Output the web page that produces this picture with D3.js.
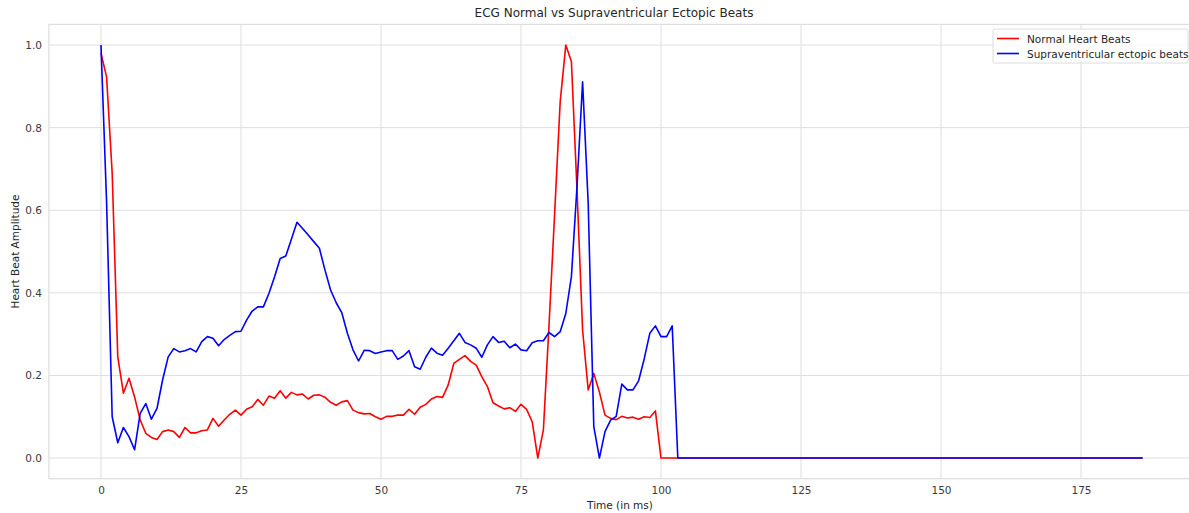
<!DOCTYPE html>
<html>
<head>
<meta charset="utf-8">
<script src="https://cdnjs.cloudflare.com/ajax/libs/d3/7.8.5/d3.min.js"></script>
<style>
  body { margin: 0; background: #fff; }
  text { font-family: 'DejaVu Sans', sans-serif; }
</style>
</head>
<body>
<script>
const normalBeats = [
  0.98, 0.923, 0.69, 0.245, 0.157, 0.193, 0.148, 0.092, 0.06, 0.05,
  0.045, 0.064, 0.068, 0.064, 0.05, 0.074, 0.061, 0.061, 0.066, 0.068,
  0.096, 0.077, 0.092, 0.106, 0.116, 0.104, 0.118, 0.124, 0.142, 0.128,
  0.15, 0.145, 0.163, 0.145, 0.159, 0.153, 0.155, 0.143, 0.152, 0.153,
  0.147, 0.135, 0.128, 0.136, 0.139, 0.116, 0.11, 0.107, 0.108, 0.1,
  0.094, 0.101, 0.101, 0.104, 0.104, 0.118, 0.106, 0.123, 0.13, 0.143,
  0.149, 0.147, 0.177, 0.229, 0.239, 0.248, 0.234, 0.225, 0.197, 0.173,
  0.134, 0.126, 0.119, 0.122, 0.113, 0.13, 0.118, 0.088, 0.0, 0.068,
  0.32, 0.59, 0.863, 1.0, 0.96, 0.65, 0.31, 0.165, 0.205, 0.16,
  0.104, 0.096, 0.093, 0.101, 0.097, 0.099, 0.094, 0.1, 0.098, 0.114,
  0, 0, 0, 0, 0, 0, 0, 0, 0, 0,
  0, 0, 0, 0, 0, 0, 0, 0, 0, 0,
  0, 0, 0, 0, 0, 0, 0, 0, 0, 0,
  0, 0, 0, 0, 0, 0, 0, 0, 0, 0,
  0, 0, 0, 0, 0, 0, 0, 0, 0, 0,
  0, 0, 0, 0, 0, 0, 0, 0, 0, 0,
  0, 0, 0, 0, 0, 0, 0, 0, 0, 0,
  0, 0, 0, 0, 0, 0, 0, 0, 0, 0,
  0, 0, 0, 0, 0, 0, 0
];

const ectopicBeats = [
  1.0, 0.62, 0.1, 0.037, 0.074, 0.052, 0.02, 0.108, 0.132, 0.094,
  0.12, 0.189, 0.245, 0.265, 0.257, 0.26, 0.265, 0.257, 0.282, 0.294,
  0.29, 0.272, 0.287, 0.297, 0.306, 0.307, 0.334, 0.356, 0.366, 0.366,
  0.399, 0.439, 0.483, 0.489, 0.53, 0.571, 0.556, 0.54, 0.524, 0.508,
  0.455, 0.407, 0.376, 0.352, 0.302, 0.262, 0.235, 0.261, 0.26, 0.253,
  0.257, 0.26, 0.26, 0.239, 0.247, 0.26, 0.221, 0.215, 0.244, 0.266,
  0.254, 0.249, 0.266, 0.284, 0.302, 0.28, 0.274, 0.266, 0.244, 0.274,
  0.294, 0.28, 0.283, 0.267, 0.276, 0.262, 0.26, 0.279, 0.284, 0.284,
  0.304, 0.294, 0.306, 0.35, 0.439, 0.657, 0.911, 0.617, 0.076, 0.0,
  0.064, 0.092, 0.101, 0.179, 0.165, 0.165, 0.187, 0.24, 0.302, 0.32,
  0.294, 0.294, 0.32, 0, 0, 0, 0, 0, 0, 0,
  0, 0, 0, 0, 0, 0, 0, 0, 0, 0,
  0, 0, 0, 0, 0, 0, 0, 0, 0, 0,
  0, 0, 0, 0, 0, 0, 0, 0, 0, 0,
  0, 0, 0, 0, 0, 0, 0, 0, 0, 0,
  0, 0, 0, 0, 0, 0, 0, 0, 0, 0,
  0, 0, 0, 0, 0, 0, 0, 0, 0, 0,
  0, 0, 0, 0, 0, 0, 0, 0, 0, 0,
  0, 0, 0, 0, 0, 0, 0
];

const xTicks = [0, 25, 50, 75, 100, 125, 150, 175];
const yTicks = [0.0, 0.2, 0.4, 0.6, 0.8, 1.0];

const seriesNames = ['Normal Heart Beats', 'Supraventricular ectopic beats'];
const seriesColors = ['#ff0000', '#0000ff'];

const W = 1189, H = 513;
const margin = { top: 24.4, left: 48.9, right: -5.7, bottom: 34.3 };
const width = W - margin.left - margin.right;
const height = H - margin.top - margin.bottom;
const gridColor = '#dedede';

const svg = d3.select('body')
  .append('svg')
  .attr('width', W)
  .attr('height', H);

const xScale = d3.scaleLinear()
  .domain([-9.3, 195.3])
  .range([margin.left, margin.left + width]);

const yScale = d3.scaleLinear()
  .domain([-0.05, 1.05])
  .range([margin.top + height, margin.top]);

// grid
svg.append('g')
  .selectAll('line')
  .data(xTicks)
  .enter()
  .append('line')
  .attr('x1', d => xScale(d))
  .attr('x2', d => xScale(d))
  .attr('y1', margin.top)
  .attr('y2', margin.top + height)
  .attr('stroke', gridColor)
  .attr('stroke-width', 1);

svg.append('g')
  .selectAll('line')
  .data(yTicks)
  .enter()
  .append('line')
  .attr('x1', margin.left)
  .attr('x2', margin.left + width)
  .attr('y1', d => yScale(d))
  .attr('y2', d => yScale(d))
  .attr('stroke', gridColor)
  .attr('stroke-width', 1);

// frame
svg.append('rect')
  .attr('x', margin.left)
  .attr('y', margin.top)
  .attr('width', width)
  .attr('height', height)
  .attr('fill', 'none')
  .attr('stroke', gridColor)
  .attr('stroke-width', 1.2);

// axes (labels only, seaborn whitegrid has no tick marks)
const xAxis = d3.axisBottom(xScale)
  .tickValues(xTicks)
  .tickSize(0)
  .tickPadding(8)
  .tickFormat(d3.format('d'));

const yAxis = d3.axisLeft(yScale)
  .tickValues(yTicks)
  .tickSize(0)
  .tickPadding(7)
  .tickFormat(d3.format('.1f'));

const gx = svg.append('g')
  .attr('transform', `translate(0,${margin.top + height})`)
  .call(xAxis);

const gy = svg.append('g')
  .attr('transform', `translate(${margin.left},0)`)
  .call(yAxis);

[gx, gy].forEach(g => {
  g.select('.domain').remove();
  g.selectAll('text')
    .style('font-size', '10.5px')
    .style('font-family', "'DejaVu Sans', sans-serif")
    .attr('fill', '#3a3a3a');
});

// lines
const line = d3.line()
  .x((d, i) => xScale(i))
  .y(d => yScale(d));

[normalBeats, ectopicBeats].forEach((series, k) => {
  svg.append('path')
    .datum(series)
    .attr('fill', 'none')
    .attr('stroke', seriesColors[k])
    .attr('stroke-width', 1.6)
    .attr('stroke-linejoin', 'round')
    .attr('d', line);
});

// titles
svg.append('text')
  .attr('x', 614)
  .attr('y', 17)
  .attr('text-anchor', 'middle')
  .style('font-size', '12px')
  .attr('fill', '#262626')
  .text('ECG Normal vs Supraventricular Ectopic Beats');

svg.append('text')
  .attr('x', 620)
  .attr('y', 509)
  .attr('text-anchor', 'middle')
  .style('font-size', '10.5px')
  .attr('fill', '#262626')
  .text('Time (in ms)');

svg.append('text')
  .attr('transform', `translate(19,${margin.top + height / 2}) rotate(-90)`)
  .attr('text-anchor', 'middle')
  .style('font-size', '10.5px')
  .attr('fill', '#262626')
  .text('Heart Beat Amplitude');

// legend
const legend = svg.append('g')
  .attr('class', 'legend')
  .attr('transform', 'translate(993,29)');

legend.append('rect')
  .attr('width', 195)
  .attr('height', 34)
  .attr('rx', 2)
  .attr('fill', '#fff')
  .attr('fill-opacity', 0.8)
  .attr('stroke', '#dcdcdc');

seriesNames.forEach((name, k) => {
  legend.append('line')
    .attr('x1', 4)
    .attr('x2', 26)
    .attr('y1', 9.5 + k * 15)
    .attr('y2', 9.5 + k * 15)
    .attr('stroke', seriesColors[k])
    .attr('stroke-width', 1.6);

  legend.append('text')
    .attr('x', 34)
    .attr('y', 13.5 + k * 15)
    .style('font-size', '10.5px')
    .attr('fill', '#262626')
    .text(name);
});
</script>
</body>
</html>
